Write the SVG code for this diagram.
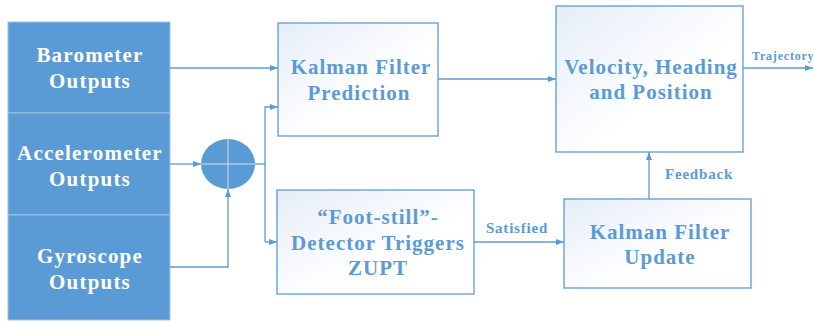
<svg xmlns="http://www.w3.org/2000/svg" width="813" height="322" viewBox="0 0 813 322">
<defs>
<linearGradient id="g" x1="0" y1="0" x2="1" y2="1">
<stop offset="0" stop-color="#e6edf8"/>
<stop offset="0.6" stop-color="#ffffff"/>
<stop offset="1" stop-color="#ffffff"/>
</linearGradient>
<marker id="a" markerWidth="8" markerHeight="6" refX="8" refY="3" orient="auto" markerUnits="userSpaceOnUse">
<path d="M0,0 L8,3 L0,6 z" fill="#5B9BD5"/>
</marker>
<style>
.src{fill:#5B9BD5;stroke:#9dc3e6;stroke-width:1}
.box{fill:url(#g);stroke:#5B9BD5;stroke-width:1.3}
.wt{font-family:"Liberation Serif","Times New Roman",serif;font-weight:bold;font-size:21px;letter-spacing:1.2px;fill:#ffffff;text-anchor:middle}
.bt{font-family:"Liberation Serif","Times New Roman",serif;font-weight:bold;font-size:21px;letter-spacing:1px;fill:#5B9BD5;text-anchor:middle}
.lb{font-family:"Liberation Serif","Times New Roman",serif;font-weight:bold;font-size:15px;letter-spacing:0.8px;fill:#5B9BD5;text-anchor:middle}
.ln{fill:none;stroke:#5B9BD5;stroke-width:1.3}
</style>
</defs>
<rect width="813" height="322" fill="#ffffff"/>
<g id="barometer">
<rect class="src" x="8" y="22" width="162" height="91"/>
<text class="wt" x="90" y="62">Barometer</text>
<text class="wt" x="90" y="88">Outputs</text>
</g>
<g id="accelerometer">
<rect class="src" x="8" y="113" width="162" height="102"/>
<text class="wt" x="90" y="160">Accelerometer</text>
<text class="wt" x="90" y="186">Outputs</text>
</g>
<g id="gyroscope">
<rect class="src" x="8" y="215" width="162" height="105"/>
<text class="wt" x="90" y="263">Gyroscope</text>
<text class="wt" x="90" y="289">Outputs</text>
</g>
<g id="sum">
<ellipse cx="228" cy="164" rx="27" ry="25" fill="#5B9BD5"/>
<line x1="201" y1="164" x2="255" y2="164" stroke="#cfe0f2" stroke-width="1"/>
<line x1="228" y1="139" x2="228" y2="189" stroke="#cfe0f2" stroke-width="1"/>
</g>
<g id="kf-prediction">
<rect class="box" x="278" y="23" width="160" height="113"/>
<text class="bt" x="361" y="74">Kalman Filter</text>
<text class="bt" x="359" y="100">Prediction</text>
</g>
<g id="detector">
<rect class="box" x="277" y="190" width="197" height="104"/>
<text class="bt" x="378" y="224">“Foot-still”-</text>
<text class="bt" x="378" y="250">Detector Triggers</text>
<text class="bt" x="378" y="275">ZUPT</text>
</g>
<g id="velocity">
<rect class="box" x="556" y="6" width="187" height="146"/>
<text class="bt" x="651" y="74">Velocity, Heading</text>
<text class="bt" x="651" y="99">and Position</text>
</g>
<g id="kf-update">
<rect class="box" x="564" y="199" width="187" height="89"/>
<text class="bt" x="660" y="239">Kalman Filter</text>
<text class="bt" x="660" y="264">Update</text>
</g>
<g id="connectors">
<line class="ln" x1="170" y1="68" x2="278" y2="68" marker-end="url(#a)"/>
<line class="ln" x1="170" y1="164" x2="201" y2="164" marker-end="url(#a)"/>
<polyline class="ln" points="170,267 228,267 228,189" marker-end="url(#a)"/>
<polyline class="ln" points="255,164 265,164"/>
<polyline class="ln" points="265,242 265,107 278,107" marker-end="url(#a)"/>
<line class="ln" x1="265" y1="242" x2="277" y2="242" marker-end="url(#a)"/>
<line class="ln" x1="438" y1="79" x2="556" y2="79" marker-end="url(#a)"/>
<line class="ln" x1="474" y1="242" x2="564" y2="242" marker-end="url(#a)"/>
<line class="ln" x1="649" y1="199" x2="649" y2="152" marker-end="url(#a)"/>
<line class="ln" x1="743" y1="68" x2="813" y2="68" marker-end="url(#a)"/>
<text class="lb" x="517" y="233">Satisfied</text>
<text class="lb" x="699" y="179">Feedback</text>
<text class="lb" x="752" y="60" style="font-size:12px;text-anchor:start">Trajectory</text>
</g>
</svg>
